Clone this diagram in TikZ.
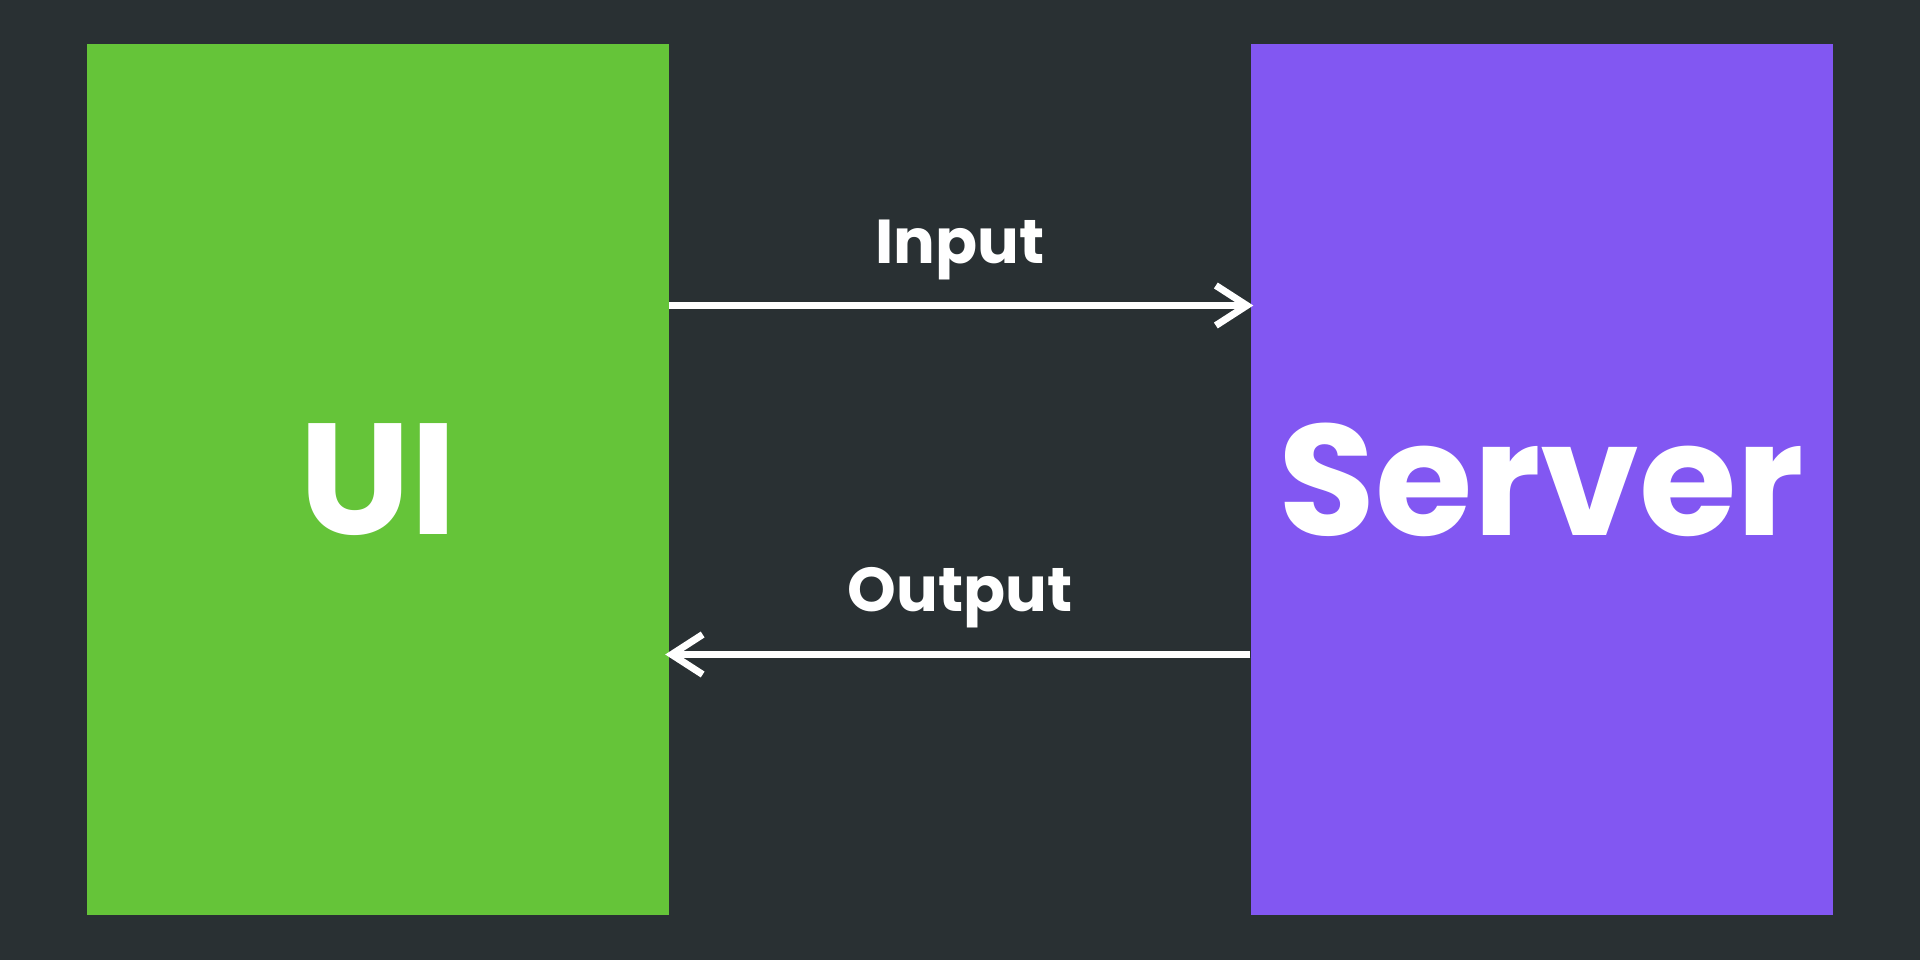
\documentclass[tikz,border=0pt]{standalone}
\usepackage{fontspec}
\setmainfont{Poppins}
\usepackage{xcolor}
\usepackage{tikz}
\usetikzlibrary{calc,positioning,arrows.meta}

\definecolor{bgdark}{HTML}{293033}
\definecolor{uigreen}{HTML}{65C439}
\definecolor{srvpurple}{HTML}{8257F2}

\begin{document}
\begin{tikzpicture}[x=1pt, y=-1pt,
  block/.style={rectangle, inner sep=0pt, minimum width=582pt, minimum height=871pt,
    text=white, font=\bfseries\fontsize{158}{158}\selectfont},
  flow/.style={white, line width=7pt,
    -{Straight Barb[length=31pt, width=40pt]}},
  lab/.style={anchor=base, text=white, inner sep=0pt,
    font=\bfseries\fontsize{62}{62}\selectfont}]
% canvas
\fill[bgdark] (0,0) rectangle (1920,960);
% the two blocks
\node[block, fill=uigreen] (ui) at (378,479.5) {UI};
\node[block, fill=srvpurple] (server) at (1541.5,479.5) {Server};
% heights of the two connectors
\coordinate (inrow) at (0,305.5);
\coordinate (outrow) at (0,654.5);
% request and response
\draw[flow] (ui.east |- inrow) -- ([xshift=3pt]server.west |- inrow);
\draw[flow] (server.west |- outrow) -- ([xshift=-4pt]ui.east |- outrow);
% arrow labels
\node[lab] (inputlbl) at (960,264) {Input};
\node[lab] (outputlbl) at (960,611) {Output};
\end{tikzpicture}
\end{document}
